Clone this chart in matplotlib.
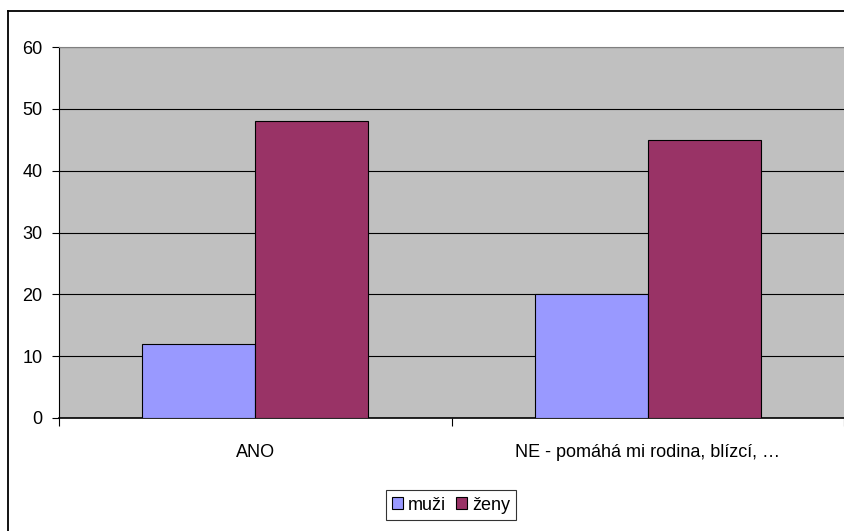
import matplotlib
matplotlib.use("Agg")
import matplotlib.pyplot as plt
from matplotlib.lines import Line2D
import numpy as np

categories = ["ANO", "NE - pomáhá mi rodina, blízcí, …"]
series_names = ["muži", "ženy"]
muzi = [12, 20]
zeny = [48, 45]
yticks = [0, 10, 20, 30, 40, 50, 60]

plt.rcParams['font.family'] = ['Liberation Sans', 'DejaVu Sans']

W, H = 844, 531
fig = plt.figure(figsize=(W/100, H/100), dpi=100)
fig.patch.set_facecolor('white')

ax = fig.add_axes([59/W, 1-418/H, (W-59)/W, (418-47)/H])
ax.set_facecolor('#C0C0C0')

x = np.arange(len(categories))
bw = 0.288
ax.bar(x - bw/2, muzi, bw, color='#9999FF', edgecolor='black', linewidth=0.8, label=series_names[0], zorder=3)
ax.bar(x + bw/2, zeny, bw, color='#993366', edgecolor='black', linewidth=0.8, label=series_names[1], zorder=3)

ax.set_xlim(-0.5, len(categories) - 0.5)
ax.set_ylim(0, 60)
ax.set_yticks(yticks)
ax.yaxis.grid(True, color='black', linewidth=0.8, zorder=1)
ax.set_axisbelow(True)

ax.set_xticks(np.arange(-0.5, len(categories), 1.0))
ax.set_xticklabels([])
ax.set_xticks(x, minor=True)
ax.set_xticklabels(categories, minor=True)
ax.tick_params(axis='x', which='major', direction='out', length=6, width=0.8, color='black')
ax.tick_params(axis='x', which='minor', length=0, pad=19, labelsize=13)
ax.tick_params(axis='y', direction='out', length=5, width=0.8, pad=7, labelsize=13)

ax.spines['right'].set_visible(False)
ax.spines['top'].set_color('#808080')
ax.spines['left'].set_color('black')
ax.spines['bottom'].set_color('black')
ax.spines['left'].set_linewidth(0.8)
ax.spines['bottom'].set_linewidth(1.2)

leg = ax.legend(loc='center', bbox_to_anchor=(451/W, 1-505/H), bbox_transform=fig.transFigure,
                ncol=2, frameon=True, fancybox=False, edgecolor='black', fontsize=13,
                handlelength=0.6, handleheight=0.6, handletextpad=0.25, columnspacing=0.6,
                borderpad=0.35)
leg.get_frame().set_linewidth(0.8)

fig.add_artist(Line2D([7.5/W, 7.5/W], [0, 1-10.5/H], transform=fig.transFigure, color='black', linewidth=1.3))
fig.add_artist(Line2D([7.5/W, 1], [1-10.5/H, 1-10.5/H], transform=fig.transFigure, color='black', linewidth=1.3))

fig.savefig('out.png', dpi=100)
